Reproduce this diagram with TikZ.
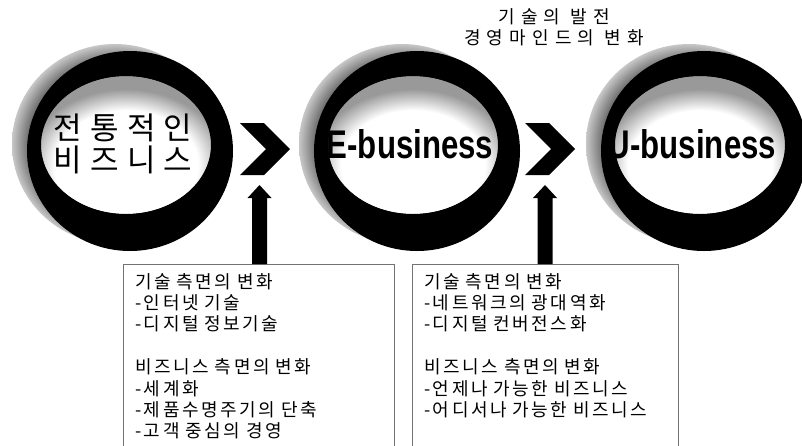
\documentclass[tikz,border=0pt]{standalone}
\usepackage{fontspec}
\usepackage{graphicx}
\newfontfamily\krbig{Noto Sans CJK KR}[LetterSpace=26]
\newfontfamily\krbox{Noto Sans CJK KR}[LetterSpace=14]
\newfontfamily\krtop{Noto Sans CJK KR}[LetterSpace=34]
\newfontfamily\latsans{Liberation Sans}
\pgfdeclareradialshading{innersh}{\pgfpoint{0bp}{0bp}}{color(0bp)=(white); color(18bp)=(white); color(25bp)=(black!40); color(50bp)=(black!40)}
\pgfdeclareradialshading{halosh}{\pgfpoint{0bp}{0bp}}{color(0bp)=(black); color(19bp)=(black!75); color(25bp)=(black!22); color(50bp)=(black!22)}
\newcommand\ringbase[2]{%
  \shade[shading=halosh] (#1-15,#2-7) ellipse [x radius=103, y radius=100];
  \begin{scope}
    \clip (#1-4,#2-6) ellipse [x radius=85, y radius=69];
    \fill[black!40] (#1-4,#2-6) ellipse [x radius=85, y radius=69];
    \shade[shading=innersh] (#1-4,#2+14) ellipse [x radius=100, y radius=76];
  \end{scope}}
\newcommand\ringtop[2]{%
  \fill[black, even odd rule] (#1,#2) ellipse [x radius=103, y radius=100]
    (#1-4,#2-6) ellipse [x radius=85, y radius=69];}
\tikzset{
  bigkr/.style={font=\krbig\fontsize{31}{32.5}\selectfont, align=center, inner sep=0pt},
  biz/.style={font=\latsans\bfseries\fontsize{40}{44}\selectfont, anchor=base, inner sep=0pt},
  topnote/.style={font=\krtop\fontsize{18}{21}\selectfont, align=center, inner sep=0pt},
  infobox/.style={anchor=north west, align=left, inner xsep=12pt, inner ysep=9pt,
    font=\krbox\fontsize{18}{21.4}\selectfont},
  frame/.style={draw=black!55, line width=0.8pt},
  chev/.style={fill=black},
  uparrow/.style={fill=black}
}
\begin{document}
\begin{tikzpicture}[x=1pt, y=-1pt]
\useasboundingbox (0,0) rectangle (802,445);
\clip (0,0) rectangle (802,445);
\fill[white] (0,0) rectangle (802,445);

% ring bodies
\ringbase{130}{151}
\ringbase{417}{151}
\ringbase{704}{151}

% circle texts
\node[bigkr] (trad) at (123,144) {전통적인\\비즈니스};
\node[biz] (ebiz) at (410,158) {\scalebox{0.78}[1]{E-business}};
\node[biz] (ubiz) at (692,158) {\scalebox{0.78}[1]{U-business}};

% black rings
\ringtop{130}{151}
\ringtop{417}{151}
\ringtop{704}{151}

% chevrons
\fill[chev] (240,123) -- (264,123) -- (290,149) -- (264,175) -- (240,175) -- (266,149) -- cycle;
\fill[chev] (525,123) -- (549,123) -- (575,149) -- (549,175) -- (525,175) -- (551,149) -- cycle;

% top note
\node[topnote] (note) at (554,27) {기술의 발전\\경영마인드의 변화};

% boxes
\node[infobox, text width=247pt] (box1) at (123,264) {기술 측면의 변화\\-인터넷 기술\\-디지털 정보기술\\[21.4pt]비즈니스 측면의 변화\\-세계화\\-제품수명주기의 단축\\-고객 중심의 경영};
\node[infobox, text width=242pt] (box2) at (412,264) {기술 측면의 변화\\-네트워크의 광대역화\\-디지털 컨버전스화\\[21.4pt]비즈니스 측면의 변화\\-언제나 가능한 비즈니스\\-어디서나 가능한 비즈니스};
\draw[frame] ([yshift=-200pt]box1.north west) -- (box1.north west) -- (box1.north east) -- ([yshift=-200pt]box1.north east);
\draw[frame] ([yshift=-200pt]box2.north west) -- (box2.north west) -- (box2.north east) -- ([yshift=-200pt]box2.north east);

% up arrows
\coordinate (tip1) at (259.5,185);
\coordinate (tip2) at (545,185);
\fill[uparrow] (box1.north -| tip1) ++(-7.5,0) -- ++(0,-66) -- ++(-4.5,0) -- (tip1) -- ++(12,13) -- ++(-4.5,0) -- ++(0,66) -- cycle;
\fill[uparrow] (box2.north -| tip2) ++(-7.5,0) -- ++(0,-66) -- ++(-4.5,0) -- (tip2) -- ++(12,13) -- ++(-4.5,0) -- ++(0,66) -- cycle;
\end{tikzpicture}
\end{document}
